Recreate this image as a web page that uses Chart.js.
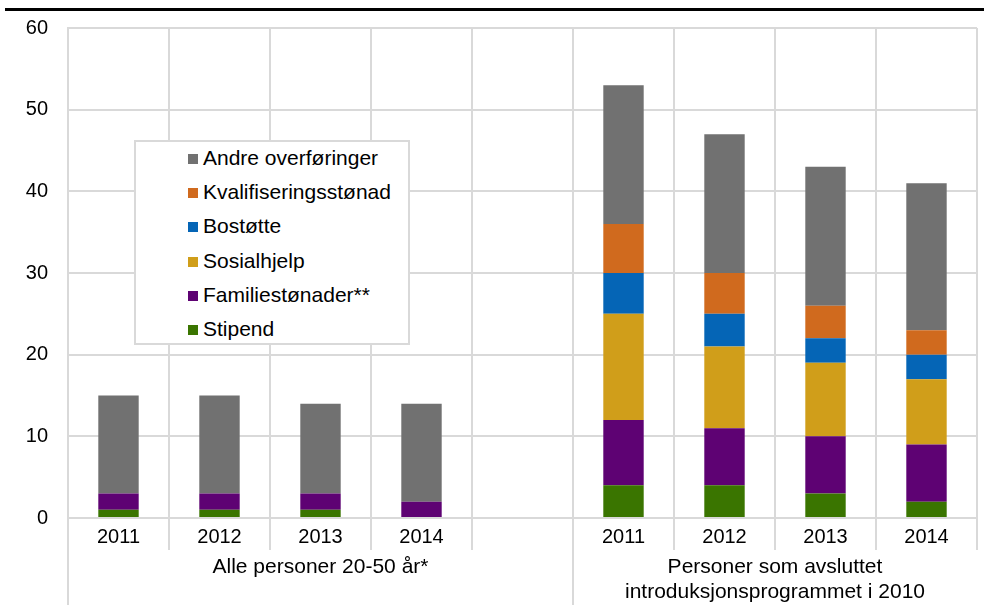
<!DOCTYPE html>
<html>
<head>
<meta charset="utf-8">
<script src="https://cdn.jsdelivr.net/npm/chart.js@4"></script>
<style>
body{margin:0;background:#fff;font-family:"Liberation Sans",Arial,sans-serif}
#wrap{position:relative;width:984px;height:605px}
#legenda{position:absolute;left:134px;top:140px;width:272px;height:201px;border:2px solid #d9d9d9;background:#fff}
.item{position:absolute;left:52px;font-size:21px;color:#000;line-height:24px;white-space:nowrap}
.item span{display:inline-block;width:10px;height:10px;margin-right:5px;vertical-align:1px}
</style>
</head>
<body>
<div id="wrap">
<canvas id="grafico" width="984" height="605"></canvas>
<div id="legenda"></div>
</div>
<script>
let kategorier=['2011','2012','2013','2014','','2011','2012','2013','2014']
let grupper=['Alle personer 20-50 år*',['Personer som avsluttet','introduksjonsprogrammet i 2010']]

let stipend=[1,1,1,0,null,4,4,3,2]
let familie=[2,2,2,2,null,8,7,7,7]
let sosialhjelp=[0,0,0,0,null,13,10,9,8]
let bostotte=[0,0,0,0,null,5,4,3,3]
let kvalifisering=[0,0,0,0,null,6,5,4,3]
let andre=[12,12,11,12,null,17,17,17,18]

let yTicks=[0,10,20,30,40,50,60]

let serier=[
{label:'Stipend',data:stipend,cor:'#3a7500'},
{label:'Familiestønader**',data:familie,cor:'#5e0273'},
{label:'Sosialhjelp',data:sosialhjelp,cor:'#d09e1a'},
{label:'Bostøtte',data:bostotte,cor:'#0565b6'},
{label:'Kvalifiseringsstønad',data:kvalifisering,cor:'#d06a1e'},
{label:'Andre overføringer',data:andre,cor:'#717171'}
]

let fonte='"Liberation Sans", Arial, sans-serif'

// tykk strek over figuren og skillelinjer/gruppetekst under x-aksen
let ekstra={
id:'ekstra',
beforeDraw(chart){
let c=chart.ctx
c.save()
c.fillStyle='#000'
c.fillRect(5,8,979,3)
c.restore()
},
afterDraw(chart){
let c=chart.ctx
let x=chart.scales.x
let bunn=chart.chartArea.bottom
let steg=x.getPixelForValue(1)-x.getPixelForValue(0)
c.save()
c.strokeStyle='#d9d9d9'
c.lineWidth=2
for(let i=0;i<=kategorier.length;i++){
let px=x.getPixelForValue(0)-steg/2+i*steg
let gruppe=(i===0||i===5)
c.beginPath()
c.moveTo(px,bunn)
c.lineTo(px,gruppe?chart.height:bunn+32)
c.stroke()
}
c.fillStyle='#000'
c.font='21px '+fonte
c.textAlign='center'
c.textBaseline='middle'
let midt1=(x.getPixelForValue(0)+x.getPixelForValue(4))/2
let midt2=(x.getPixelForValue(5)+x.getPixelForValue(8))/2
c.fillText(grupper[0],midt1,567)
c.fillText(grupper[1][0],midt2,567)
c.fillText(grupper[1][1],midt2,592)
c.restore()
}
}

let grafico=new Chart(document.getElementById('grafico'),{
type:'bar',
data:{
labels:kategorier,
datasets:serier.map(s=>({
label:s.label,
data:s.data,
backgroundColor:s.cor,
borderWidth:0,
barPercentage:0.4,
categoryPercentage:1
}))
},
options:{
responsive:false,
animation:false,
layout:{padding:{top:28,right:7,left:0,bottom:0}},
plugins:{
legend:{display:false},
tooltip:{enabled:false}
},
scales:{
x:{
stacked:true,
offset:true,
grid:{offset:true,color:'#d9d9d9',lineWidth:2,drawTicks:false},
border:{color:'#d9d9d9',width:2},
ticks:{color:'#000',font:{family:fonte,size:20},padding:7,maxRotation:0,autoSkip:false},
afterFit(s){s.height=87;s.paddingLeft=0;s.paddingRight=0}
},
y:{
stacked:true,
min:0,
max:60,
afterBuildTicks(s){s.ticks=yTicks.map(v=>({value:v}))},
grid:{color:'#d9d9d9',lineWidth:2,drawTicks:false},
border:{color:'#d9d9d9',width:2},
ticks:{color:'#000',font:{family:fonte,size:20},padding:20},
afterFit(s){s.width=68;s.paddingTop=0;s.paddingBottom=0}
}
}
},
plugins:[ekstra]
})

// legende i boks, øverste serie først
let html=''
serier.slice().reverse().forEach((s,i)=>{
html+=`<div class="item" style="top:${4+i*34.2}px"><span style="background:${s.cor}"></span>${s.label}</div>`
})
document.getElementById('legenda').innerHTML=html
</script>
</body>
</html>
